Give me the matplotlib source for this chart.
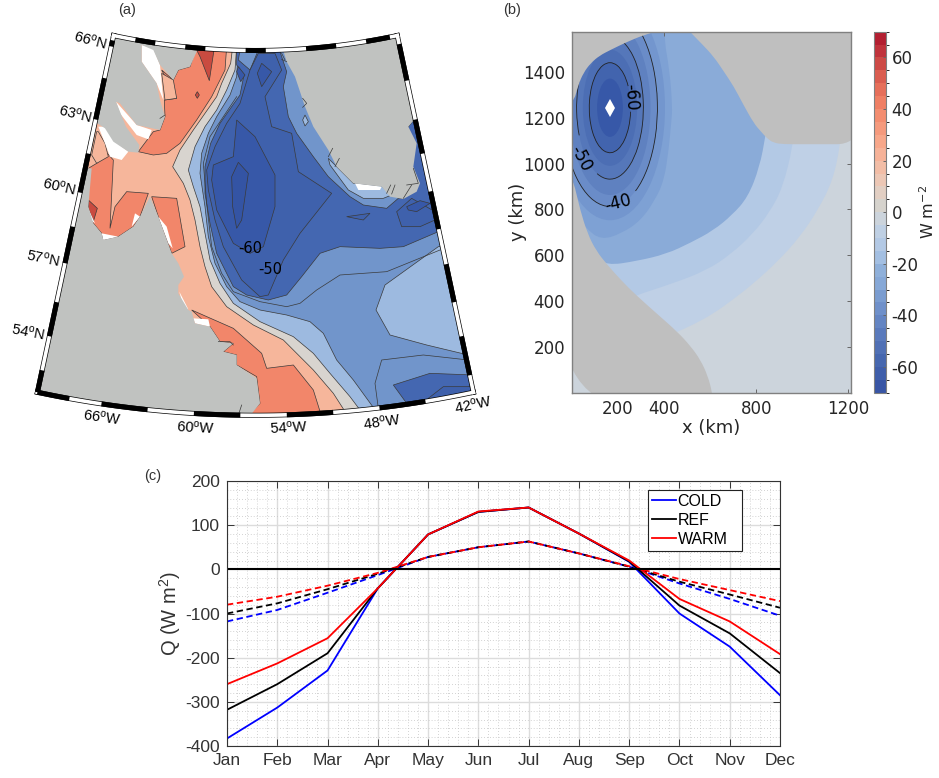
import numpy as np
import matplotlib
matplotlib.use('Agg')
import matplotlib.pyplot as plt
from matplotlib.colors import ListedColormap, BoundaryNorm
from matplotlib.cm import ScalarMappable
from matplotlib.patches import Polygon, Ellipse, Arc, PathPatch
from matplotlib.path import Path
from matplotlib.ticker import AutoMinorLocator

plt.rcParams['mathtext.default'] = 'regular'
plt.rcParams['axes.unicode_minus'] = False

W, H = 939, 778

# ---- panel (c) monthly heat flux
months = ['Jan', 'Feb', 'Mar', 'Apr', 'May', 'Jun', 'Jul', 'Aug', 'Sep', 'Oct', 'Nov', 'Dec']
cold_solid = [-383, -313, -229, -43, 79, 130, 140, 81, 17, -100, -175, -285]
ref_solid = [-318, -260, -190, -43, 79, 130, 140, 81, 18, -82, -145, -235]
warm_solid = [-260, -213, -156, -43, 79, 131, 140, 81, 20, -67, -118, -192]
cold_dash = [-118, -92, -53, -13, 28, 50, 63, 36, 6, -32, -67, -105]
ref_dash = [-100, -77, -45, -10, 28, 50, 63, 36, 6, -28, -57, -87]
warm_dash = [-80, -62, -37, -8, 28, 50, 63, 36, 7, -22, -47, -72]

band_base = '#ccd4dc'
iso_m6 = [(1175, 1200), (1165, 1078), (1133, 926), (1070, 800), (990, 680), (895, 575), (788, 477), (700, 408),
          (614, 346), (530, 300), (454, 265), (300, 200), (-50, 200), (-50, 1700), (1175, 1700)]
iso_m12 = [(970, 1200), (960, 1078), (916, 897), (860, 790), (786, 694), (690, 605), (584, 534), (430, 475),
           (273, 425), (100, 350), (-50, 350), (-50, 1700), (970, 1700)]
iso_m20 = [(850, 1200), (841, 1122), (815, 985), (764, 853), (695, 775), (613, 708), (515, 655), (410, 606),
           (280, 575), (150, 556), (100, 600), (-50, 700), (-50, 1700), (850, 1700)]
iso_m30 = [(425, 1700), (396, 1564), (425, 1400), (436, 1243), (432, 1187), (420, 1060), (400, 926), (360, 840),
           (299, 752), (215, 695), (126, 667), (60, 718), (-50, 850), (-50, 1700)]
iso_colors = ['#bfd0e6', '#b3c9e5', '#8aabd8']
iso_m30_color = '#7ea1d4'

# ellipses of the core, -35 to -65
core_x, core_y = 165, 1243
core_levels = [-35, -40, -45, -50, -55, -60, -65]
core_rx = [239, 206, 176, 145, 118, 90, 56]
core_ry = [490, 430, 380, 311, 253, 196, 127]
core_colors = ['#7396ce', '#6a8cc8', '#5f81c0', '#5577ba', '#4c6eb4', '#4264ae', '#3758a8']
line_levels = [-60, -50, -40]
line_rx = [90, 145, 206]
line_ry = [196, 311, 430]
line_gap = [(-11, 50), (222, 259), (268, 287)]
label_text = ['-60', '-50', '-40']
label_x = [254, 38, 198]
label_y = [1290, 1022, 830]
label_rot = [-87, -62, 14]

land_b_south = [(-60, -60), (-60, 940), (0, 930), (12, 900), (35, 800), (67, 696), (105, 620), (154, 558), (215, 490),
                (277, 428), (370, 345), (457, 268), (515, 205), (558, 145), (590, 75), (609, 3), (615, -60)]
land_b_north = [(1300, 1700), (-60, 1700), (-60, 1262), (6, 1262), (27, 1342), (50, 1395), (81, 1437), (120, 1470),
                (168, 1495), (240, 1530), (313, 1560), (380, 1578), (420, 1620), (470, 1620), (508, 1578), (565, 1520),
                (616, 1465), (660, 1400), (703, 1335), (745, 1255), (790, 1175), (820, 1140), (847, 1110),
                (875, 1090), (920, 1084), (1000, 1084), (1300, 1084)]

cbar_colors = ['#3855a5', '#3f5eaa', '#4667af', '#5070b5', '#5a7abc', '#6485c3', '#6f90ca',
               '#7a9cd0', '#86a8d7', '#8fb0da', '#a3bfe2', '#b3c9e5', '#bfd0e4', '#ccd4dc',
               '#d6d3cd', '#e2cfc3', '#ecc7b5', '#f2bda6', '#f6b298', '#f7a78a', '#f59a7d',
               '#f38d70', '#ef7f64', '#e66f5a', '#da5d50', '#cd4a46', '#c0333c', '#b31f31']

# ---- panel (a) map regions, in map units
LAND = '#c0c2c0'
LSALMON = '#f6b69b'
SALMON = '#f2866a'
RED = '#c94b40'
BEIGE = '#d8d4cf'
LBLUE = '#9dbae0'
MBLUE = '#7195cb'
BLUE = '#4467b1'
BLUE50 = '#3f61ac'
BLUE60 = '#3758a8'
BLUE70 = '#3454a4'

bound_beige = [(638, 80), (632, 130), (605, 190), (590, 230), (555, 280), (520, 330), (480, 390), (458, 440),
               (490, 490), (510, 540), (525, 600), (540, 680), (555, 740), (575, 800), (620, 860), (700, 915),
               (790, 960), (830, 1000), (880, 1050), (940, 1120), (985, 1190), (1500, 1300), (1500, 0)]
bound_lblue = [(650, 80), (645, 150), (620, 210), (590, 270), (555, 320), (525, 380), (505, 450), (520, 500),
               (540, 560), (555, 640), (570, 720), (600, 790), (640, 850), (720, 905), (820, 950), (880, 1000),
               (930, 1060), (990, 1130), (1035, 1190), (1500, 1300), (1500, 0)]
bound_mblue = [(655, 80), (650, 170), (630, 225), (590, 290), (565, 340), (545, 400), (540, 460), (555, 560),
               (565, 650), (585, 730), (620, 800), (660, 845), (720, 870), (800, 885), (870, 905), (910, 940),
               (950, 1020), (1000, 1080), (1080, 1190), (1500, 1300), (1500, 0)]
blue_main = [(672, 165), (660, 225), (635, 260), (600, 310), (572, 370), (555, 440), (555, 520), (570, 610),
             (590, 700), (640, 800), (680, 825), (745, 840), (800, 825), (845, 770), (900, 700), (960, 680),
             (1080, 685), (1150, 680), (1255, 635), (1320, 640), (1320, 400), (1190, 290), (1165, 320),
             (1150, 535), (1135, 535), (1100, 565), (1030, 555), (990, 530), (925, 470), (880, 410), (830, 340),
             (805, 290), (790, 200), (800, 155), (775, 80), (650, 80), (650, 135)]
mblue_top = [(660, 90), (715, 90), (690, 150), (655, 120)]
lblue_strip = [(925, 415), (930, 435), (985, 510), (1030, 535), (1090, 535), (1115, 525), (1085, 498),
               (1000, 490), (950, 440)]
lblue_spot = [(855, 285), (865, 305), (855, 318), (848, 300)]
lblue_se = [(1255, 680), (1095, 795), (1068, 870), (1110, 945), (1220, 975), (1345, 1005), (1420, 1000), (1400, 680)]
blue_se = [(1360, 1065), (1230, 1060), (1120, 1095), (1160, 1150), (1200, 1200), (1400, 1200)]
dark_se = [(1360, 1100), (1270, 1100), (1225, 1135), (1235, 1200), (1400, 1200)]
blue50 = [(690, 150), (715, 100), (765, 100), (785, 150), (735, 230), (755, 320), (815, 340), (835, 455), (935, 520),
          (840, 640), (790, 720), (745, 825), (720, 830), (665, 780), (610, 680), (585, 600), (565, 510), (560, 450),
          (585, 380), (620, 310), (660, 250)]
blue60 = [(650, 300), (705, 350), (765, 465), (765, 560), (730, 680), (690, 700), (640, 670), (590, 570), (575, 480),
          (580, 435), (640, 410)]
blue70 = [(655, 427), (685, 460), (665, 600), (650, 625), (638, 560), (635, 470)]
blue_spot1 = [(655, 140), (675, 165), (662, 185), (650, 155)]
blue_spot2 = [(725, 130), (755, 155), (725, 200), (712, 160)]
blue_spot3 = [(980, 590), (1050, 580), (1030, 600)]
blue_spot4 = [(1160, 560), (1200, 542), (1230, 550), (1190, 575), (1165, 570)]
loop_east = [(1130, 575), (1175, 535), (1245, 575), (1245, 600), (1200, 620), (1145, 620)]
line_mblue = [(650, 230), (610, 290), (570, 350), (550, 430), (560, 550), (575, 680), (605, 760), (640, 815), (720, 845),
              (800, 860), (840, 850), (890, 810), (960, 765), (1100, 755), (1260, 690)]
line_se = [(1345, 1020), (1210, 1005), (1085, 1020), (1065, 1090), (1075, 1165)]
salmon_north = [(530, 80), (620, 80), (615, 150), (575, 230), (530, 300), (480, 370), (440, 400), (400, 405), (355, 395),
                (400, 335), (420, 330), (435, 290), (433, 240), (470, 235), (425, 150), (460, 180), (475, 150), (510, 140)]
lsalmon_north = [(425, 160), (460, 180), (470, 235), (435, 240)]
salmon_west = [(205, 445), (230, 430), (262, 400), (280, 420), (270, 625), (285, 560), (320, 515), (385, 520),
               (360, 590), (340, 620), (295, 650), (250, 660), (245, 640), (220, 610), (200, 560)]
lsalmon_nw = [(235, 335), (255, 370), (265, 410), (230, 430), (215, 405), (230, 335)]
salmon_mid = [(395, 530), (470, 535), (495, 680), (455, 700), (415, 590)]
salmon_south = [(515, 870), (640, 925), (725, 1000), (740, 1045), (820, 1035), (880, 1110), (905, 1190), (680, 1190),
                (720, 1150), (710, 1070), (650, 1035), (650, 1005), (610, 995), (640, 970), (600, 965), (570, 920)]
red_north = [(530, 90), (582, 90), (568, 182), (540, 110)]
red_spot = [(532, 215), (538, 225), (532, 235), (526, 225)]
red_west = [(205, 540), (232, 565), (220, 605), (205, 565)]
white_patches = [
    [(365, 75), (400, 85), (420, 135), (430, 240), (410, 190), (365, 125)],
    [(288, 245), (350, 315), (395, 330), (385, 358), (350, 345), (300, 280)],
    [(235, 320), (260, 320), (285, 365), (325, 395), (305, 420), (270, 410), (255, 370)],
    [(200, 555), (225, 610), (212, 600)],
    [(245, 640), (295, 650), (250, 660)],
    [(345, 580), (360, 590), (335, 620)],
    [(415, 590), (440, 620), (458, 685), (445, 670)],
    [(478, 815), (505, 868), (490, 860)],
    [(520, 895), (565, 898), (570, 920), (525, 910)],
    [(1005, 490), (1085, 500), (1080, 510), (1015, 510)],
]
land_baffin = [(232, 310), (255, 325), (280, 365), (325, 395), (355, 398), (358, 375), (318, 320), (288, 245), (300, 250),
               (350, 315), (420, 330), (435, 290), (420, 240), (410, 190), (365, 125), (365, 75), (400, 90), (420, 135),
               (460, 180), (475, 150), (510, 140), (530, 95), (530, 20), (200, 20), (180, 310)]
land_labrador = [(215, 445), (205, 560), (220, 610), (245, 640), (250, 660), (295, 650), (340, 620), (360, 590), (390, 530),
                 (415, 590), (455, 700), (475, 730), (492, 770), (475, 795), (475, 820), (505, 870), (515, 875), (525, 910),
                 (570, 920), (600, 965), (640, 970), (610, 995), (650, 1005), (650, 1035), (710, 1075), (720, 1150),
                 (680, 1200), (0, 1200), (0, 445)]
land_greenland = [(780, 60), (800, 125), (825, 170), (835, 200), (855, 260), (880, 320), (925, 390), (950, 440), (1000, 490),
                  (1085, 500), (1110, 530), (1150, 537), (1190, 515), (1200, 490), (1180, 440), (1190, 370), (1165, 320),
                  (1190, 290), (1170, 20), (780, 20)]
coast_spikes = [
    [(785, 100), (795, 120)], [(800, 125), (785, 118)], [(848, 235), (860, 250), (848, 262)], [(925, 410), (938, 385)],
    [(945, 440), (958, 415)], [(1100, 520), (1112, 495)], [(1115, 522), (1125, 495)], [(1150, 535), (1175, 495)],
    [(1160, 495), (1195, 490), (1180, 445)], [(655, 1185), (665, 1155)], [(595, 965), (630, 965), (640, 975)],
    [(420, 295), (435, 285)],
]

lat_labels = ['66', '63', '60', '57', '54']
lat_label_x = [212, 165, 117, 70, 25]
lat_label_y = [62, 283, 500, 715, 935]
lat_label_rot = [-15, -14, -13, -12, -11]
lon_labels = ['66', '60', '54', '48', '42']
lon_label_x = [245, 525, 805, 1085, 1360]
lon_label_y = [1192, 1222, 1222, 1205, 1155]
lon_label_rot = [-8, -3, 3, 8, 12]

# black pieces of the map border
border_bottom = [(-70.2, -68.1), (-66, -63), (-60, -57), (-54, -51), (-48, -45)]
border_top = [(-68, -66), (-63, -61), (-57, -55), (-51, -48), (-45, -42.6)]
border_left = [(65.95, 65.7), (64.4, 62.7), (61.3, 59.7), (58.3, 56.8), (55.2, 53.8), (52.4, 51.5)]
border_right = [(65.8, 64.3), (62.7, 61.3), (59.75, 58.2), (56.76, 55.2), (53.8, 52.2)]
LON_W, LON_E, LAT_S, LAT_N = -70.2, -41.85, 51.5, 66.15


def project(lon, lat):
    # conic projection to map units
    theta = np.radians((np.asarray(lon, dtype=float) + 56.02) * 0.85)
    r = 2031 + (66.25 - np.asarray(lat, dtype=float)) * 74.7
    return 706.5 + r * np.sin(theta), -1947 + r * np.cos(theta)


def px_axes(left, top, right, bottom):
    return fig.add_axes([left / W, 1 - bottom / H, (right - left) / W, (bottom - top) / H])


def smooth(points):
    # closed outline, rounded with quadratic curves between the read points
    p = np.array(points, dtype=float)
    mid = (p + np.roll(p, -1, axis=0)) / 2
    verts = [mid[-1]]
    codes = [Path.MOVETO]
    for i in range(len(p)):
        verts += [p[i], mid[i]]
        codes += [Path.CURVE3, Path.CURVE3]
    return Path(verts, codes)


fig = plt.figure(figsize=(W / 100, H / 100), dpi=100)

# ---------------- (a)
ax = px_axes(20, 20, 500, 440)
ax.set_xlim(0, 1440)
ax.set_ylim(1260, 0)
ax.axis('off')

lons = np.linspace(LON_W, LON_E, 60)
lats = np.linspace(LAT_N, LAT_S, 30)
edge = np.vstack([
    np.column_stack(project(lons, np.full(60, LAT_N))),
    np.column_stack(project(np.full(30, LON_E), lats)),
    np.column_stack(project(lons[::-1], np.full(60, LAT_S))),
    np.column_stack(project(np.full(30, LON_W), lats[::-1])),
])
sector = Polygon(edge, closed=True, transform=ax.transData, fc=LSALMON, ec='none', zorder=0)
ax.add_patch(sector)


def area(points, color, edge='#3a3a3a', z=1):
    p = Polygon(points, closed=True, fc=color, ec=edge, lw=0.5, zorder=z)
    ax.add_patch(p)
    p.set_clip_path(sector)


def line(points, z=2):
    xy = np.array(points)
    l, = ax.plot(xy[:, 0], xy[:, 1], color='#3a3a3a', lw=0.5, zorder=z)
    l.set_clip_path(sector)


for pts, col in [(bound_beige, BEIGE), (bound_lblue, LBLUE), (bound_mblue, MBLUE), (blue_main, BLUE),
                 (mblue_top, MBLUE), (lblue_strip, LBLUE), (lblue_spot, LBLUE), (lblue_se, LBLUE),
                 (blue_se, BLUE), (dark_se, BLUE50), (blue50, BLUE50), (blue60, BLUE60), (blue70, BLUE70),
                 (blue_spot1, BLUE60), (blue_spot2, BLUE60), (blue_spot3, BLUE50), (loop_east, BLUE50),
                 (blue_spot4, BLUE60), (salmon_north, SALMON), (lsalmon_north, LSALMON), (salmon_west, SALMON),
                 (lsalmon_nw, LSALMON), (salmon_mid, SALMON), (salmon_south, SALMON),
                 (red_north, RED), (red_spot, RED), (red_west, RED)]:
    area(pts, col)
line(line_mblue)
line(line_se)
for patch in white_patches:
    area(patch, 'white', edge='none', z=3)
for pts in (land_baffin, land_labrador, land_greenland):
    area(pts, LAND, edge='none', z=4)
for seg in coast_spikes:
    line(seg, z=5)

ax.text(690, 685, '-60', fontsize=10.5, family='DejaVu Sans', ha='center', va='center', zorder=6)
ax.text(750, 750, '-50', fontsize=10.5, family='DejaVu Sans', ha='center', va='center', zorder=6)

# border: white band with black pieces on it
for xs, ys in [project(lons, np.full(60, LAT_N)), project(lons, np.full(60, LAT_S)),
               project(np.full(30, LON_W), lats), project(np.full(30, LON_E), lats)]:
    ax.plot(xs, ys, color='black', lw=3.6, solid_capstyle='projecting', zorder=7)
    ax.plot(xs, ys, color='white', lw=2.6, solid_capstyle='projecting', zorder=8)
for a, b in border_top:
    xs, ys = project(np.linspace(a, b, 10), np.full(10, LAT_N))
    ax.plot(xs, ys, color='black', lw=3.6, solid_capstyle='butt', zorder=9)
for a, b in border_bottom:
    xs, ys = project(np.linspace(a, b, 10), np.full(10, LAT_S))
    ax.plot(xs, ys, color='black', lw=3.6, solid_capstyle='butt', zorder=9)
for a, b in border_left:
    xs, ys = project(np.full(2, LON_W), [a, b])
    ax.plot(xs, ys, color='black', lw=3.6, solid_capstyle='butt', zorder=9)
for a, b in border_right:
    xs, ys = project(np.full(2, LON_E), [a, b])
    ax.plot(xs, ys, color='black', lw=3.6, solid_capstyle='butt', zorder=9)

for lab, x, y, rot in zip(lat_labels, lat_label_x, lat_label_y, lat_label_rot):
    ax.text(x, y, lab + '$^{o}$N', fontsize=10.5, family='Liberation Sans', rotation=rot,
            rotation_mode='anchor', ha='center', va='center', clip_on=False)
for lab, x, y, rot in zip(lon_labels, lon_label_x, lon_label_y, lon_label_rot):
    ax.text(x, y, lab + '$^{o}$W', fontsize=10.5, family='Liberation Sans', rotation=rot,
            rotation_mode='anchor', ha='center', va='center', clip_on=False)

# ---------------- (b)
GREY_TXT = '#262626'
ax2 = px_axes(572, 31.7, 851, 392.7)
ax2.set_xlim(0, 1212)
ax2.set_ylim(2, 1574)
ax2.set_facecolor(band_base)
for pts, col in zip((iso_m6, iso_m12, iso_m20), iso_colors):
    ax2.add_patch(PathPatch(smooth(pts), fc=col, ec='none', lw=0, zorder=1))
ax2.add_patch(PathPatch(smooth(iso_m30), fc=iso_m30_color, ec='none', lw=0, zorder=1))
for rx, ry, col in zip(core_rx, core_ry, core_colors):
    ax2.add_patch(Ellipse((core_x, core_y), 2 * rx, 2 * ry, fc=col, ec='none', lw=0, zorder=2))
for rx, ry, gap in zip(line_rx, line_ry, line_gap):
    ax2.add_patch(Arc((core_x, core_y), 2 * rx, 2 * ry, theta1=gap[1], theta2=gap[0] + 360,
                      color='#222222', lw=0.6, zorder=3))
for s, x, y, rot in zip(label_text, label_x, label_y, label_rot):
    ax2.text(x, y, s, fontsize=12, rotation=rot, rotation_mode='anchor', ha='center', va='center',
             color='black', zorder=4)
ax2.add_patch(PathPatch(smooth(land_b_south), fc='#bfbfbf', ec='none', lw=0, zorder=5))
ax2.add_patch(PathPatch(smooth(land_b_north), fc='#bfbfbf', ec='none', lw=0, zorder=5))
ax2.plot(core_x, core_y, marker='d', color='white', ms=9, mew=0, zorder=6)
ax2.set_xticks([200, 400, 800, 1200])
ax2.set_yticks(range(200, 1500, 200))
ax2.tick_params(direction='in', top=True, right=True, length=3, width=0.7, color='#666666',
                labelsize=12, labelcolor=GREY_TXT, pad=5)
for s in ax2.spines.values():
    s.set_color('#808080')
    s.set_linewidth(1)
    s.set_zorder(7)
ax2.set_xlabel('x (km)', fontsize=13, color=GREY_TXT, labelpad=1)
ax2.set_ylabel('y (km)', fontsize=13, color=GREY_TXT, labelpad=-3)

cax = px_axes(874.3, 31.7, 886, 392.7)
bounds = np.arange(-70, 75, 5)
sm = ScalarMappable(norm=BoundaryNorm(bounds, 28), cmap=ListedColormap(cbar_colors))
cb = fig.colorbar(sm, cax=cax, ticks=range(-60, 80, 20), spacing='proportional', drawedges=False)
cb.ax.tick_params(length=2.5, width=0.7, direction='in', color='#666666', labelsize=12, labelcolor=GREY_TXT, pad=4)
cb.outline.set_edgecolor('#808080')
fig.text(928 / W, 1 - 212 / H, 'W m$^{-2}$', fontsize=11.5, color=GREY_TXT, rotation=90, ha='center', va='center')

# ---------------- (c)
ax3 = px_axes(227, 481, 780, 746)
x = np.arange(1, 13)
dash = (0, (3.5, 2))
ax3.plot(x, cold_dash, color='blue', ls=dash, lw=1.3)
ax3.plot(x, ref_dash, color='black', ls=dash, lw=1.3)
ax3.plot(x, warm_dash, color='red', ls=dash, lw=1.3)
ax3.plot(x, cold_solid, color='blue', lw=1.3, label='COLD')
ax3.plot(x, ref_solid, color='black', lw=1.3, label='REF')
ax3.plot(x, warm_solid, color='red', lw=1.3, label='WARM')
ax3.axhline(0, color='black', lw=1.5)
ax3.set_xlim(1, 12)
ax3.set_ylim(-400, 200)
ax3.set_xticks(x)
ax3.set_xticklabels(months)
ax3.xaxis.set_minor_locator(AutoMinorLocator(5))
ax3.yaxis.set_minor_locator(AutoMinorLocator(5))
ax3.grid(which='major', color='#dcdcdc', lw=1)
ax3.grid(which='minor', color='#c4c4c4', lw=0.6, ls=(0, (1, 2.5)))
ax3.set_axisbelow(True)
ax3.tick_params(which='major', direction='in', top=True, right=True, length=5, width=0.7, color='#333333',
                labelsize=12.5, labelcolor='#333333', pad=5)
ax3.tick_params(which='minor', length=0)
for label in ax3.get_xticklabels() + ax3.get_yticklabels():
    label.set_family('Liberation Sans')
for s in ax3.spines.values():
    s.set_color('#333333')
    s.set_linewidth(0.8)
ax3.set_ylabel('Q (W m$^{2}$)', fontsize=14.5, family='Liberation Sans', color='#333333', labelpad=2)
leg = ax3.legend(loc='upper left', bbox_to_anchor=((648 - 227) / 553, 1 - 69 / 265, 94 / 553, 60 / 265), mode='expand',
                 fancybox=False, framealpha=1, edgecolor='#222222', borderpad=0.25, labelspacing=0.25,
                 handlelength=1.5, handletextpad=0.1, borderaxespad=0, prop={'family': 'Liberation Sans', 'size': 11.5})
leg.get_frame().set_linewidth(0.8)

for s, px, py in [('(a)', 127, 10), ('(b)', 512, 10), ('(c)', 153, 476)]:
    fig.text(px / W, 1 - py / H, s, fontsize=10.5, family='Liberation Sans', color='#333333', ha='center', va='center')

fig.savefig('out.png', dpi=100)
